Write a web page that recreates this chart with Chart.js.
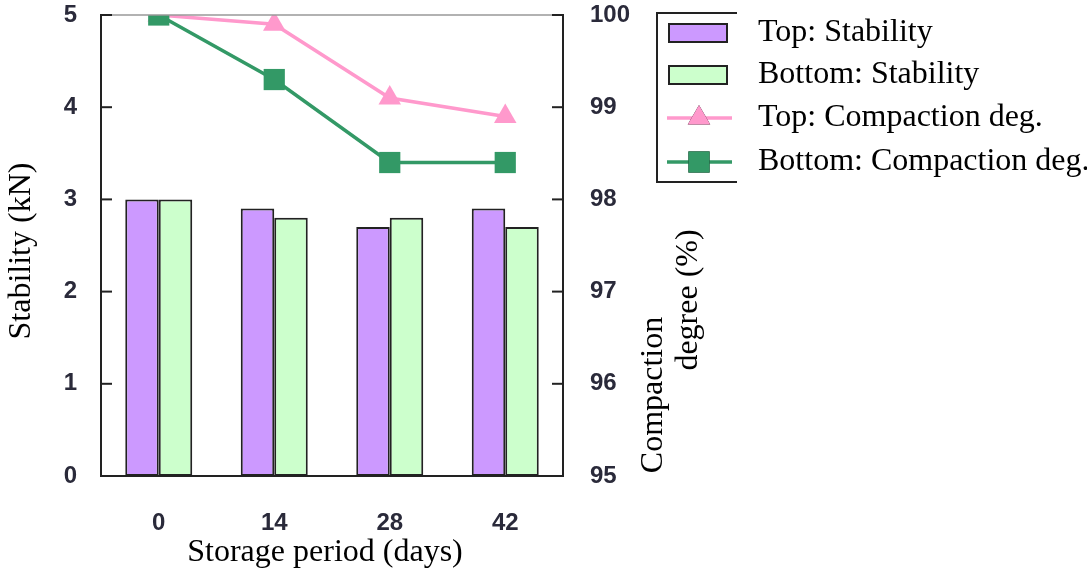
<!DOCTYPE html>
<html>
<head>
<meta charset="utf-8">
<script src="https://cdn.jsdelivr.net/npm/chart.js@4.4.1/dist/chart.umd.min.js"></script>
<style>
  html, body { margin: 0; padding: 0; background: #fff; }
  #wrap { width: 1087px; height: 578px; }
</style>
</head>
<body>
<div id="wrap"><canvas id="chart" width="1087" height="578"></canvas></div>
<script>
// datos
const periods = ['0', '14', '28', '42'];
const topStability = [3.0, 2.9, 2.7, 2.9];
const bottomStability = [3.0, 2.8, 2.8, 2.7];
const topCompaction = [100, 99.9, 99.1, 98.9];
const bottomCompaction = [100, 99.3, 98.4, 98.4];
const stabilityTicks = [0, 1, 2, 3, 4, 5];
const compactionTicks = [95, 96, 97, 98, 99, 100];

const SERIF = '"Liberation Serif", "Times New Roman", serif';
const SANS = '"Liberation Sans", Arial, sans-serif';
const INK = '#222';
const TICK_FONT = { family: SANS, size: 24, weight: 'bold' };
const TICK_COLOR = '#2a2a3a';

// --- plugin: titulos, marcas interiores, borde superior y leyenda ---
const decorPlugin = {
    id: 'decor',
    afterDraw(chart) {
        const ctx = chart.ctx;
        const area = chart.chartArea;
        const yL = chart.scales.y;
        const yR = chart.scales.y1;
        ctx.save();

        // borde superior gris
        ctx.strokeStyle = '#999';
        ctx.lineWidth = 1.5;
        ctx.beginPath();
        ctx.moveTo(area.left, area.top);
        ctx.lineTo(area.right, area.top);
        ctx.stroke();

        // marcas hacia dentro
        ctx.strokeStyle = INK;
        ctx.lineWidth = 2;
        stabilityTicks.forEach(v => {
            const py = yL.getPixelForValue(v);
            ctx.beginPath();
            ctx.moveTo(area.left, py);
            ctx.lineTo(area.left + 11, py);
            ctx.stroke();
        });
        compactionTicks.forEach(v => {
            const py = yR.getPixelForValue(v);
            ctx.beginPath();
            ctx.moveTo(area.right, py);
            ctx.lineTo(area.right - 11, py);
            ctx.stroke();
        });

        // titulos de ejes
        ctx.fillStyle = '#000';
        ctx.font = '32px ' + SERIF;
        ctx.textAlign = 'center';
        ctx.textBaseline = 'middle';
        ctx.fillText('Storage period (days)', 325, 553);

        const rotText = (txt, x, y) => {
            ctx.save();
            ctx.translate(x, y);
            ctx.rotate(-Math.PI / 2);
            ctx.fillText(txt, 0, 0);
            ctx.restore();
        };
        rotText('Stability (kN)', 22, 251);
        rotText('Compaction', 654, 395);
        rotText('degree (%)', 689, 300);

        // leyenda
        const lx = 657, ly = 13, lr = 737, lb = 182;
        ctx.strokeStyle = INK;
        ctx.lineWidth = 2;
        ctx.beginPath();
        ctx.moveTo(lr, ly);
        ctx.lineTo(lx, ly);
        ctx.lineTo(lx, lb);
        ctx.lineTo(lr, lb);
        ctx.stroke();

        const rowsY = [33, 75, 118, 162];
        ctx.textAlign = 'left';
        chart.data.datasets.forEach((ds, i) => {
            const cy = rowsY[i];
            if (ds.type === 'bar') {
                ctx.fillStyle = ds.backgroundColor;
                ctx.fillRect(669, cy - 9, 58, 18);
                ctx.strokeStyle = INK;
                ctx.lineWidth = 2;
                ctx.strokeRect(669, cy - 9, 58, 18);
            } else {
                ctx.strokeStyle = ds.borderColor;
                ctx.lineWidth = ds.borderWidth;
                ctx.beginPath();
                ctx.moveTo(667, cy);
                ctx.lineTo(732, cy);
                ctx.stroke();
                Chart.helpers.drawPoint(ctx, {
                    pointStyle: ds.pointStyle,
                    radius: ds.pointRadius,
                    borderWidth: 0
                }, 699, cy);
                ctx.fillStyle = ds.pointBackgroundColor;
                ctx.fill();
            }
            ctx.fillStyle = '#000';
            ctx.fillText(ds.label, 758, cy);
        });

        ctx.restore();
    }
};

const noPad = s => {
    s.paddingTop = 0;
    s.paddingBottom = 0;
    s.paddingLeft = 0;
    s.paddingRight = 0;
};

const ctx = document.getElementById('chart');
new Chart(ctx, {
    data: {
        labels: periods,
        datasets: [
            {
                type: 'bar',
                label: 'Top: Stability',
                data: topStability,
                yAxisID: 'y',
                backgroundColor: '#cc99ff',
                borderColor: INK,
                borderWidth: 2,
                borderSkipped: false,
                order: 3
            },
            {
                type: 'bar',
                label: 'Bottom: Stability',
                data: bottomStability,
                yAxisID: 'y',
                backgroundColor: '#ccffcc',
                borderColor: INK,
                borderWidth: 2,
                borderSkipped: false,
                order: 3
            },
            {
                type: 'line',
                label: 'Top: Compaction deg.',
                data: topCompaction,
                yAxisID: 'y1',
                borderColor: '#ff99cc',
                borderWidth: 3.5,
                pointStyle: 'triangle',
                pointRadius: 13,
                pointBackgroundColor: '#ff99cc',
                pointBorderWidth: 0,
                tension: 0,
                order: 1
            },
            {
                type: 'line',
                label: 'Bottom: Compaction deg.',
                data: bottomCompaction,
                yAxisID: 'y1',
                borderColor: '#339966',
                borderWidth: 3.5,
                pointStyle: 'rect',
                pointRadius: 15,
                pointBackgroundColor: '#339966',
                pointBorderWidth: 0,
                tension: 0,
                order: 0
            }
        ]
    },
    options: {
        responsive: false,
        animation: false,
        devicePixelRatio: 1,
        layout: { padding: { top: 14, left: 0, right: 0, bottom: 0 } },
        datasets: {
            bar: { barPercentage: 1.0, categoryPercentage: 0.58 }
        },
        plugins: {
            legend: { display: false },
            tooltip: { enabled: false }
        },
        scales: {
            x: {
                type: 'category',
                offset: true,
                grid: { display: false, drawTicks: false },
                border: { display: true, color: INK, width: 2 },
                ticks: { color: TICK_COLOR, font: TICK_FONT, padding: 33 },
                afterFit: s => { noPad(s); s.height = 102; }
            },
            y: {
                position: 'left',
                min: 0,
                max: 5,
                grid: { display: false, drawTicks: false },
                border: { display: true, color: INK, width: 2 },
                ticks: {
                    stepSize: 1,
                    color: TICK_COLOR,
                    font: TICK_FONT,
                    padding: 24
                },
                afterFit: s => { noPad(s); s.width = 101; }
            },
            y1: {
                position: 'right',
                min: 95,
                max: 100,
                grid: { display: false, drawTicks: false },
                border: { display: true, color: INK, width: 2 },
                ticks: {
                    stepSize: 1,
                    color: TICK_COLOR,
                    font: TICK_FONT,
                    padding: 27
                },
                afterFit: s => { noPad(s); s.width = 524; }
            }
        }
    },
    plugins: [decorPlugin]
});
</script>
</body>
</html>
